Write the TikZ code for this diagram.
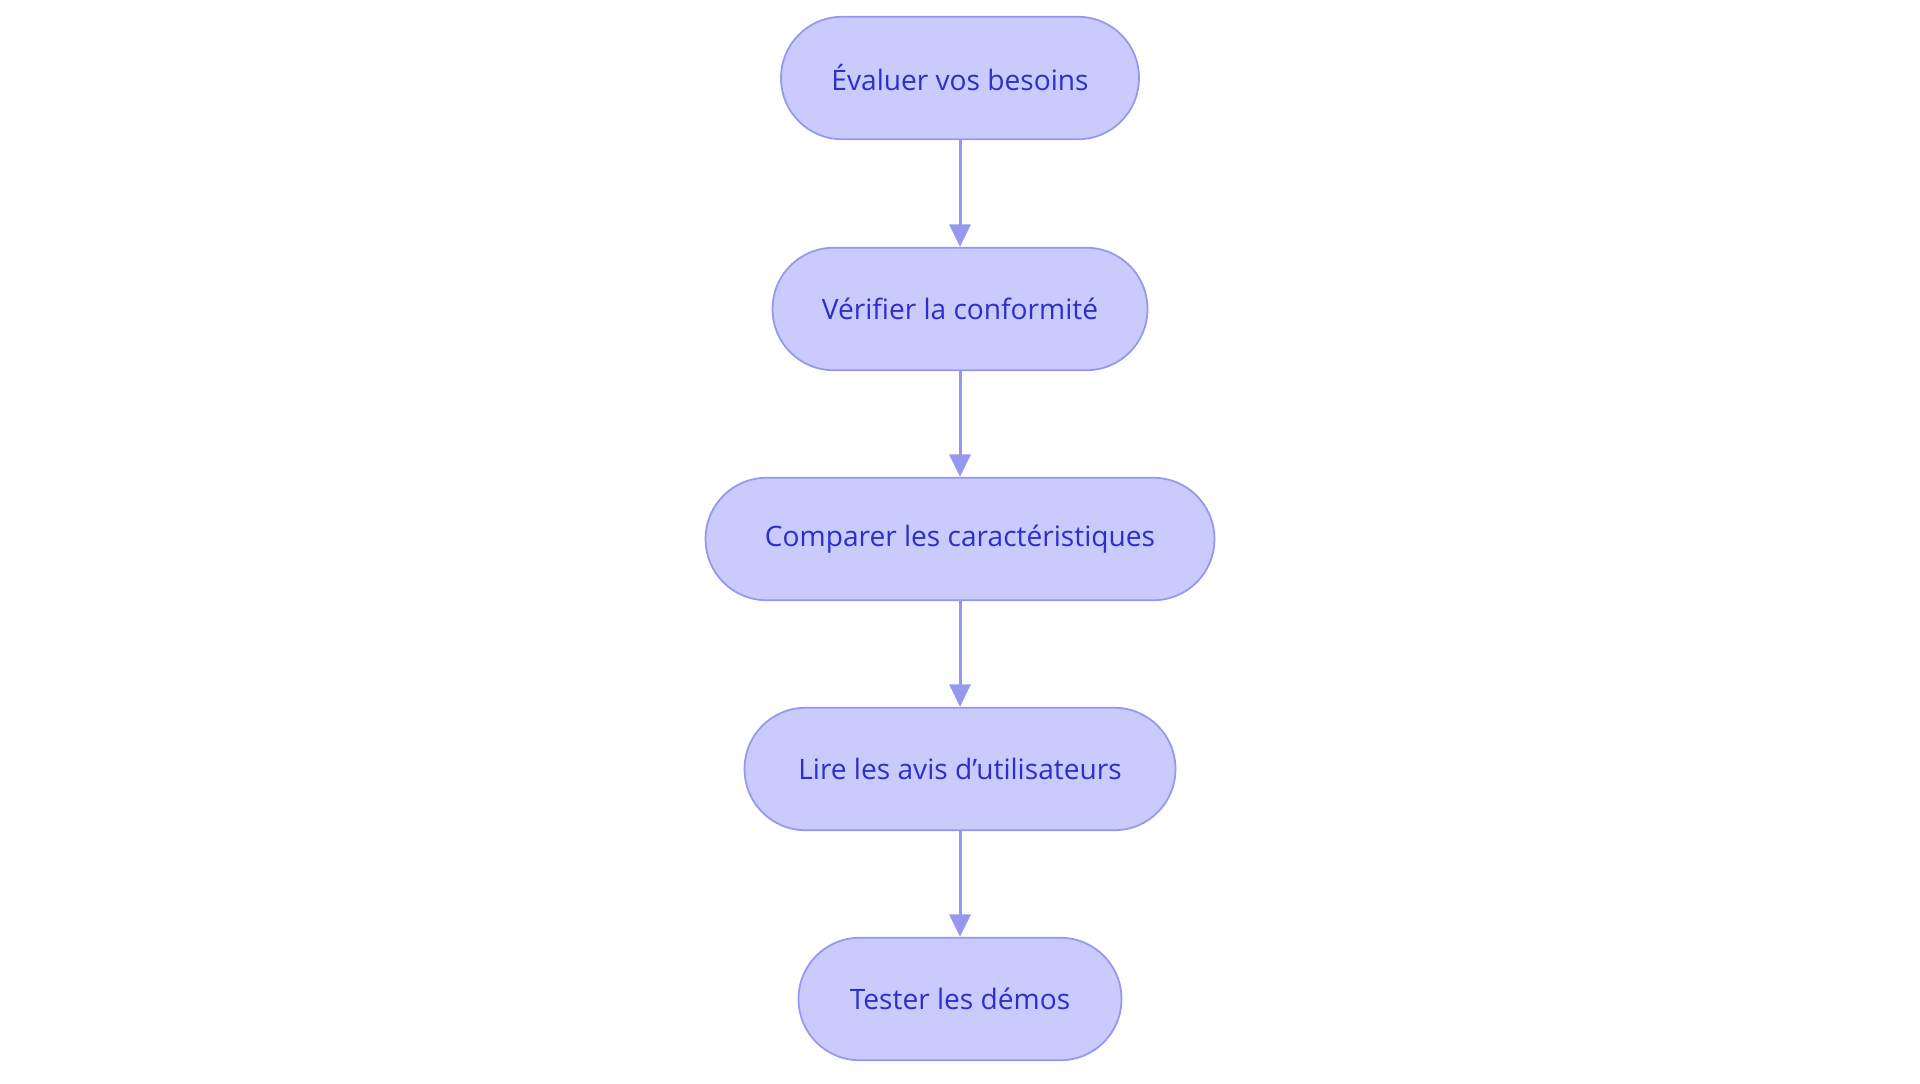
\documentclass[tikz,border=0pt]{standalone}
\usepackage{fontspec}
\setmainfont{Open Sans}
\usetikzlibrary{arrows.meta}
\definecolor{boxfill}{HTML}{C8CBFC}
\definecolor{boxline}{HTML}{9598EE}
\definecolor{boxtext}{HTML}{2E2ECC}
\tikzset{
  stepbox/.style={draw=boxline, fill=boxfill, line width=1pt, rounded corners=1.22cm,
    minimum height=2.45cm, inner sep=0pt, text=boxtext,
    font=\fontsize{16}{19}\selectfont},
  flow/.style={draw=boxline, line width=1.7pt, -{Triangle[length=0.45cm,width=0.42cm]}}
}
\begin{document}
\begin{tikzpicture}[x=0.02cm,y=-0.02cm]
\useasboundingbox (0,0) rectangle (1920,1083);
\node [stepbox, minimum width=7.16cm] (besoins) at (960,78) {Évaluer vos besoins};
\node [stepbox, minimum width=7.5cm] (conform) at (960,309) {Vérifier la conformité};
\node [stepbox, minimum width=10.18cm] (compar) at (960,539) {Comparer les caractéristiques};
\node [stepbox, minimum width=8.62cm] (avis) at (960,769) {Lire les avis d'utilisateurs};
\node [stepbox, minimum width=6.46cm] (demos) at (960,999) {Tester les démos};
\draw [flow] (besoins) -- (conform);
\draw [flow] (conform) -- (compar);
\draw [flow] (compar) -- (avis);
\draw [flow] (avis) -- (demos);
\end{tikzpicture}
\end{document}
